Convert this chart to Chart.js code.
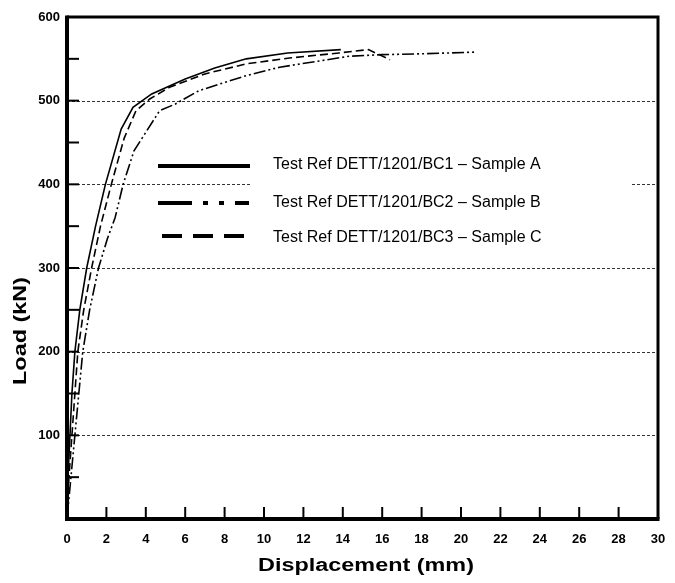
<!DOCTYPE html>
<html><head><meta charset="utf-8">
<script src="https://cdn.jsdelivr.net/npm/chart.js@4.4.0/dist/chart.umd.min.js"></script>
<style>html,body{margin:0;padding:0;background:#fff;}</style>
</head><body>
<canvas id="c" width="675" height="583"></canvas>
<script>
// ---- data ----
const seriesLabels = [
  'Test Ref DETT/1201/BC1 \u2013 Sample A',
  'Test Ref DETT/1201/BC2 \u2013 Sample B',
  'Test Ref DETT/1201/BC3 \u2013 Sample C'
];
const dispA = [0, 0.05, 0.15, 0.25, 0.4, 0.65, 1.0, 1.45, 1.95, 2.75, 3.35, 4.3, 6.0, 7.5, 9.1, 11.2, 13.9];
const loadA = [0, 50, 100, 150, 200, 250, 300, 350, 400, 466, 492, 508, 526, 539, 550, 557, 561];
const dispB = [0, 0.2, 0.4, 0.6, 0.8, 1.15, 1.6, 2.05, 2.44, 2.85, 3.4, 4.7, 5.5, 6.7, 9.1, 10.8, 14.3, 16.0, 18.0, 20.7];
const loadB = [0, 50, 100, 150, 200, 250, 300, 335, 360, 400, 440, 488, 496, 512, 530, 540, 553, 555, 556, 558];
const dispC = [0, 0.1, 0.25, 0.4, 0.55, 0.85, 1.25, 1.7, 2.25, 2.9, 3.5, 4.2, 5.2, 7.0, 9.1, 11.3, 13.8, 15.3, 16.4];
const loadC = [0, 50, 100, 150, 200, 250, 300, 350, 400, 455, 488, 502, 516, 532, 544, 551, 557, 561, 549];
const xTickValues = [0, 2, 4, 6, 8, 10, 12, 14, 16, 18, 20, 22, 24, 26, 28, 30];
const yTickValues = [100, 200, 300, 400, 500, 600];
const yMinorTicks = [50, 100, 150, 200, 250, 300, 350, 400, 450, 500, 550];
const gridLoads = [100, 200, 300, 400, 500];
const xTitle = 'Displacement (mm)';
const yTitle = 'Load (kN)';

const FONT = 'Arial, "Liberation Sans", Helvetica, sans-serif';
const dashes = [[], [12, 3, 2, 3, 2, 3], [8, 4]];
const legendDashes = [[], [34, 11, 5, 11, 5, 11, 14], [20, 11]];

function pts(xs, ys) { return xs.map((x, i) => ({x: x, y: ys[i]})); }

const decor = {
  id: 'decor',
  beforeDatasetsDraw(chart) {
    const {ctx, chartArea: a, scales: {x, y}} = chart;
    ctx.save();
    ctx.strokeStyle = '#000';
    ctx.lineWidth = 0.8;
    ctx.setLineDash([3, 2]);
    gridLoads.forEach(v => {
      const py = Math.round(y.getPixelForValue(v)) + 0.5;
      ctx.beginPath(); ctx.moveTo(a.left, py); ctx.lineTo(a.right, py); ctx.stroke();
    });
    ctx.setLineDash([]);
    ctx.restore();
  },
  afterDatasetsDraw(chart) {
    const {ctx, chartArea: a, scales: {x, y}} = chart;
    ctx.save();
    // legend box
    ctx.fillStyle = '#fff';
    ctx.fillRect(250, 150, 382, 100);
    const ly = [166, 203, 236];
    const lx0 = [158, 158, 162];
    ctx.strokeStyle = '#000';
    ctx.lineWidth = 4;
    ly.forEach((py, i) => {
      ctx.setLineDash(legendDashes[i]);
      ctx.beginPath(); ctx.moveTo(lx0[i], py); ctx.lineTo(250, py); ctx.stroke();
    });
    ctx.setLineDash([]);
    ctx.fillStyle = '#000';
    ctx.font = '16px ' + FONT;
    ctx.textBaseline = 'middle';
    ctx.textAlign = 'left';
    const ty = [165, 203, 238];
    chart.data.datasets.forEach((d, i) => ctx.fillText(d.label, 273, ty[i]));
    // ticks
    ctx.lineWidth = 2;
    yMinorTicks.forEach(v => {
      const py = y.getPixelForValue(v);
      ctx.beginPath(); ctx.moveTo(a.left, py); ctx.lineTo(a.left + 12, py); ctx.stroke();
    });
    xTickValues.slice(1, -1).forEach(v => {
      const px = x.getPixelForValue(v);
      ctx.beginPath(); ctx.moveTo(px, a.bottom); ctx.lineTo(px, a.bottom - 12); ctx.stroke();
    });
    // frame
    ctx.lineWidth = 3;
    ctx.beginPath(); ctx.moveTo(a.left, a.top); ctx.lineTo(a.right, a.top); ctx.lineTo(a.right, a.bottom); ctx.stroke();
    ctx.lineWidth = 4;
    ctx.beginPath(); ctx.moveTo(a.left, a.top - 1.5); ctx.lineTo(a.left, a.bottom); ctx.lineTo(a.right + 1.5, a.bottom); ctx.stroke();
    // axis titles
    ctx.font = 'bold 18px ' + FONT;
    ctx.textAlign = 'center';
    ctx.save();
    ctx.translate(366, 566);
    ctx.scale(1.3, 1);
    ctx.fillText(xTitle, 0, 0);
    ctx.restore();
    ctx.save();
    ctx.translate(21, 331);
    ctx.rotate(-Math.PI / 2);
    ctx.scale(1.3, 1);
    ctx.fillText(yTitle, 0, 0);
    ctx.restore();
    ctx.restore();
  }
};

new Chart(document.getElementById('c'), {
  type: 'scatter',
  data: {
    datasets: [
      {label: seriesLabels[0], data: pts(dispA, loadA), borderDash: dashes[0]},
      {label: seriesLabels[1], data: pts(dispB, loadB), borderDash: dashes[1]},
      {label: seriesLabels[2], data: pts(dispC, loadC), borderDash: dashes[2]}
    ].map(d => Object.assign(d, {showLine: true, borderColor: '#000', backgroundColor: '#000',
      borderWidth: 1.6, pointRadius: 0, tension: 0, fill: false}))
  },
  options: {
    responsive: false,
    animation: false,
    layout: {padding: {left: 0, right: 17, top: 17, bottom: 0}},
    plugins: {legend: {display: false}, tooltip: {enabled: false}},
    scales: {
      x: {
        type: 'linear', min: 0, max: 30,
        afterBuildTicks: s => { s.ticks = xTickValues.map(v => ({value: v})); },
        afterFit: s => { s.height = 64; s.paddingLeft = 0; s.paddingRight = 0; },
        ticks: {color: '#000', font: {family: FONT, size: 13, weight: 'bold'}, padding: 13, maxRotation: 0, autoSkip: false},
        grid: {display: false, drawTicks: false},
        border: {display: false}
      },
      y: {
        type: 'linear', min: 0, max: 600,
        afterBuildTicks: s => { s.ticks = yTickValues.map(v => ({value: v})); },
        afterFit: s => { s.width = 67; s.paddingTop = 0; s.paddingBottom = 0; },
        ticks: {color: '#000', font: {family: FONT, size: 13, weight: 'bold'}, padding: 7},
        grid: {display: false, drawTicks: false},
        border: {display: false}
      }
    }
  },
  plugins: [decor]
});
</script>
</body></html>
